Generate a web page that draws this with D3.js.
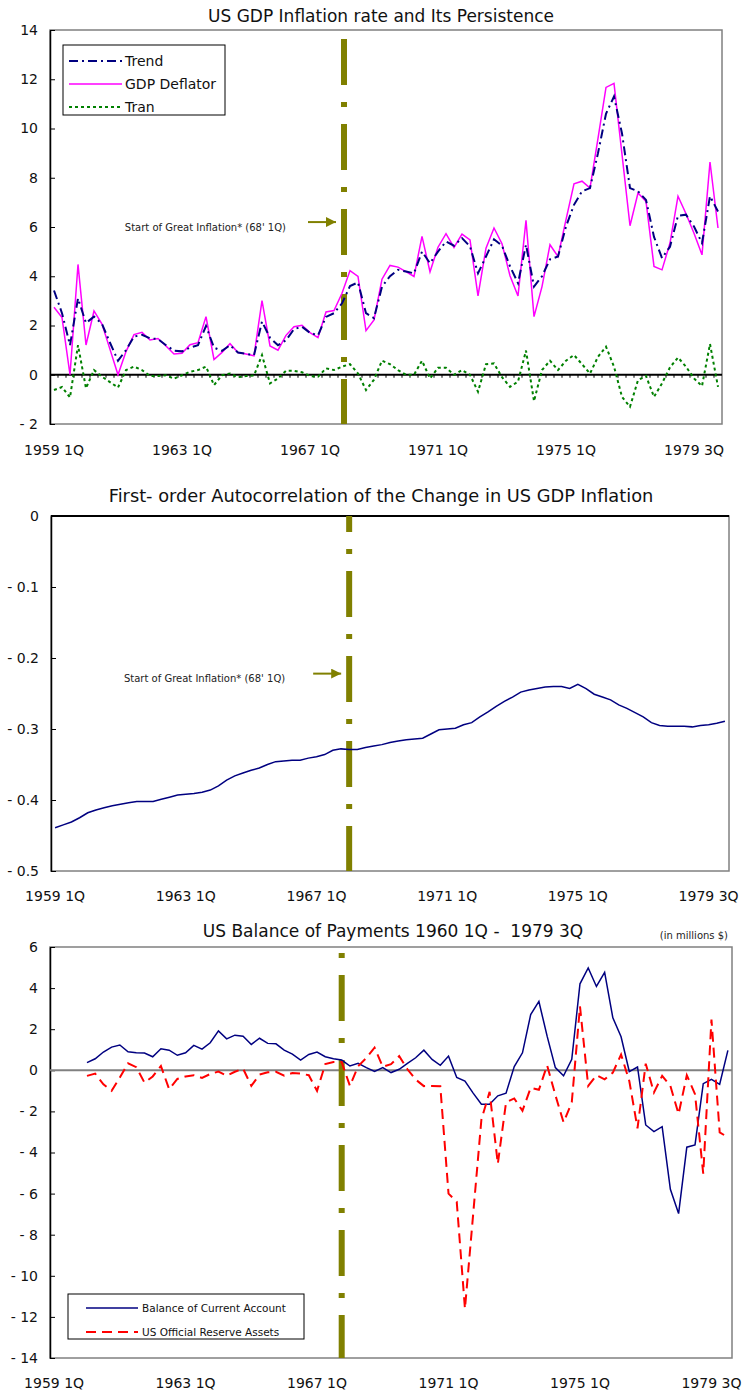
<!DOCTYPE html>
<html>
<head>
<meta charset="utf-8">
<script src="https://cdn.jsdelivr.net/npm/d3@7"></script>
<style>
  body { margin: 0; background: #fff; }
  svg { font-family: "DejaVu Sans", Verdana, sans-serif; }
  text { white-space: pre; }
</style>
</head>
<body>
<div id="chart"></div>
<script>
// x tick labels (shared by all three panels)
const xLabels = ["1959 1Q", "1963 1Q", "1967 1Q", "1971 1Q", "1975 1Q", "1979 3Q"];
const xLabelIndex = [0, 16, 32, 48, 64, 80];

// panel 1: quarterly inflation, 1959 1Q onward
const deflator = [
  2.74, 2.32, 0.0, 4.48, 1.21, 2.59, 2.06, 1.03, 0.0, 0.94,
  1.63, 1.72, 1.41, 1.47, 1.17, 0.84, 0.87, 1.22, 1.3, 2.36,
  0.62, 0.91, 1.26, 0.9, 0.84, 0.77, 3.01, 1.17, 1.0, 1.6,
  1.95, 2.01, 1.71, 1.51, 2.55, 2.61, 3.31, 4.23, 3.99, 1.79,
  2.23, 3.88, 4.44, 4.37, 4.19, 3.99, 5.62, 4.18, 5.18, 5.73,
  5.17, 5.71, 5.48, 3.2, 5.14, 5.96, 5.32, 4.02, 3.2, 6.27,
  2.36, 3.58, 5.28, 4.8, 6.3, 7.75, 7.86, 7.58, 9.6, 11.67,
  11.83, 8.95, 6.05, 7.38, 7.04, 4.4, 4.26, 5.35, 7.25, 6.54,
  5.75, 4.87, 8.64, 5.96
];
const trend = [
  3.42, 2.5, 1.2, 3.1, 2.1, 2.36, 2.06, 1.3, 0.57, 1.0,
  1.55, 1.62, 1.48, 1.45, 1.2, 0.98, 0.95, 1.1, 1.2, 1.98,
  1.1, 0.97, 1.2, 0.9, 0.85, 0.8, 2.16, 1.5, 1.2, 1.4,
  1.85, 1.95, 1.7, 1.6, 2.35, 2.5, 2.9, 3.6, 3.75, 2.5,
  2.3, 3.58, 4.0, 4.26, 4.19, 4.12, 5.0, 4.53, 5.0, 5.41,
  5.24, 5.55, 5.21, 4.12, 4.8, 5.5, 5.24, 4.4, 3.72, 5.28,
  3.58, 4.0, 4.69, 4.8, 6.02, 6.9, 7.45, 7.58, 9.0, 10.6,
  11.3, 9.8, 7.58, 7.45, 7.1, 5.6, 4.74, 5.2, 6.46, 6.5,
  6.02, 5.35, 7.25, 6.63
];
const tran = [
  -0.62, -0.5, -0.92, 1.2, -0.55, 0.19, -0.08, -0.3, -0.52, 0.19,
  0.33, 0.19, -0.05, -0.05, -0.02, -0.16, -0.02, 0.12, 0.19, 0.33,
  -0.42, -0.02, 0.05, -0.1, -0.05, -0.03, 0.8, -0.35, -0.15, 0.16,
  0.16, 0.1, -0.05, -0.08, 0.26, 0.19, 0.33, 0.43, 0.05, -0.62,
  -0.2, 0.57, 0.43, 0.19, 0.0, 0.0, 0.57, -0.15, 0.28, 0.28,
  0.0, 0.19, 0.0, -0.69, 0.43, 0.46, -0.1, -0.49, -0.28, 0.98,
  -1.07, 0.19, 0.57, 0.19, 0.57, 0.8, 0.43, 0.05, 0.73, 1.14,
  0.33, -0.9, -1.3, -0.22, -0.05, -0.9, -0.35, 0.3, 0.7, 0.33,
  -0.15, -0.46, 1.25, -0.49
];

// panel 2: first-order autocorrelation, 1959 1Q - 1979 3Q
const autocorr = [
  -0.439, -0.435, -0.431, -0.425, -0.418, -0.414, -0.411, -0.408, -0.406, -0.404,
  -0.402, -0.402, -0.402, -0.399, -0.396, -0.393, -0.392, -0.391, -0.389, -0.386,
  -0.38, -0.372, -0.366, -0.362, -0.358, -0.355, -0.35, -0.346, -0.345, -0.344,
  -0.344, -0.341, -0.339, -0.336, -0.33, -0.328, -0.329, -0.329, -0.326, -0.324,
  -0.322, -0.319, -0.317, -0.315, -0.314, -0.313, -0.307, -0.301, -0.3, -0.299,
  -0.294, -0.291, -0.283, -0.276, -0.268, -0.261, -0.255, -0.248, -0.245, -0.243,
  -0.241, -0.24, -0.24, -0.243, -0.237, -0.243, -0.251, -0.255, -0.259, -0.266,
  -0.271, -0.277, -0.283, -0.291, -0.295, -0.296, -0.296, -0.296, -0.297, -0.295,
  -0.294, -0.292, -0.289
];

// panel 3: balance of payments, 1960 1Q - 1979 3Q
const currentAccount = [
  0.37, 0.56, 0.89, 1.13, 1.23, 0.9, 0.85, 0.84, 0.66, 1.05,
  0.98, 0.73, 0.85, 1.21, 1.03, 1.34, 1.92, 1.53, 1.71, 1.66,
  1.26, 1.56, 1.31, 1.29, 0.98, 0.79, 0.5, 0.77, 0.89, 0.66,
  0.56, 0.5, 0.21, 0.34, 0.13, -0.05, 0.13, -0.11, 0.05, 0.34,
  0.61, 0.98, 0.53, 0.24, 0.69, -0.35, -0.52, -1.11, -1.65, -1.65,
  -1.24, -1.11, 0.18, 0.85, 2.71, 3.35, 1.66, 0.13, -0.27, 0.53,
  4.21, 4.98, 4.08, 4.77, 2.55, 1.63, -0.06, 0.16, -2.66, -2.98,
  -2.74, -5.79, -6.97, -3.74, -3.63, -0.65, -0.44, -0.68, 0.97
];
const reserveAssets = [
  -0.27, -0.16, -0.68, -1.0, -0.35, 0.34, 0.15, -0.6, -0.3, 0.21,
  -0.92, -0.42, -0.3, -0.24, -0.37, -0.18, -0.06, -0.26, -0.07, 0.08,
  -0.76, -0.21, -0.1, -0.07, -0.26, -0.13, -0.16, -0.24, -1.0, 0.3,
  0.4, 0.4, -0.76, 0.2, 0.6, 1.1, 0.17, 0.3, 0.69, 0.05,
  -0.45, -0.77, -0.76, -0.78, -6.0, -6.4, -11.6, -7.0, -2.4, -1.05,
  -4.55, -1.56, -1.37, -1.97, -0.85, -0.95, 0.24, -1.2, -2.53, -1.56,
  3.11, -0.76, -0.24, -0.44, -0.11, 0.77, -0.52, -2.82, 0.32, -1.08,
  -0.27, -0.76, -2.13, -0.24, -1.16, -5.03, 2.47, -3.02, -3.26
];

const greatInflationLabel = "Start of Great Inflation* (68' 1Q)";

const W = 745, H = 1393;
const olive = "#808000";

const svg = d3.select("#chart").append("svg")
  .attr("width", W).attr("height", H);

svg.append("defs").append("marker")
  .attr("id", "arrowhead")
  .attr("viewBox", "0 0 10 10")
  .attr("refX", 10).attr("refY", 5)
  .attr("markerWidth", 5).attr("markerHeight", 5)
  .attr("markerUnits", "strokeWidth")
  .attr("orient", "auto")
  .append("path").attr("d", "M0,0L10,5L0,10Z").attr("fill", olive);

const fmt = (d) => (d < 0 ? "- " + Math.abs(d) : String(d));

function makePanel(p) {
  const x = d3.scaleLinear().domain([0, p.nCat]).range([p.left, p.right]);
  const y = d3.scaleLinear().domain(p.yDomain).range([p.bottom, p.top]);
  const g = svg.append("g");

  // title
  g.append("text")
    .attr("x", p.titleX).attr("y", p.titleY)
    .attr("text-anchor", "middle").attr("dy", "0.35em")
    .style("font-size", p.titleSize + "px").attr("fill", "#111")
    .text(p.title);

  // frame
  g.append("rect")
    .attr("x", p.left).attr("y", p.top)
    .attr("width", p.right - p.left).attr("height", p.bottom - p.top)
    .attr("fill", "none").attr("stroke", "#808080").attr("stroke-width", 1.5);

  // y axis
  const yAxis = g.append("g")
    .attr("transform", `translate(${p.left},0)`)
    .call(d3.axisLeft(y).tickValues(p.yTicks).tickFormat(fmt)
      .tickSizeInner(-5).tickSizeOuter(0).tickPadding(12));
  yAxis.select(".domain").attr("stroke", "#000").attr("stroke-width", 1.5);
  yAxis.selectAll(".tick line").attr("stroke", "#000");
  yAxis.selectAll(".tick text")
    .style("font-size", "14px").attr("fill", "#111")
    .style("font-family", "DejaVu Sans, Verdana, sans-serif");

  // x category labels
  g.selectAll(".xlab")
    .data(xLabels)
    .enter().append("text")
    .attr("class", "xlab")
    .attr("x", (d, i) => x(xLabelIndex[i] + 0.5))
    .attr("y", p.labelY).attr("dy", "0.35em")
    .attr("text-anchor", "middle")
    .style("font-size", "14px").attr("fill", "#111")
    .text((d) => d);

  return { g, x, y };
}

function addMarker(panel, p, offset) {
  const { g, x } = panel;
  const mx = x(p.markerIndex);
  g.append("line")
    .attr("x1", mx).attr("x2", mx)
    .attr("y1", p.top).attr("y2", p.bottom)
    .attr("stroke", olive).attr("stroke-width", 6)
    .attr("stroke-dasharray", "46,17,5,17")
    .attr("stroke-dashoffset", offset);
}

function addArrowNote(panel, p) {
  const { g, x, y } = panel;
  const ax = x(p.markerIndex);
  g.append("line")
    .attr("x1", ax - 36).attr("x2", ax - 8)
    .attr("y1", y(p.noteValue)).attr("y2", y(p.noteValue))
    .attr("stroke", olive).attr("stroke-width", 2)
    .attr("marker-end", "url(#arrowhead)");
  g.append("text")
    .attr("x", ax - p.noteGap).attr("y", y(p.noteValue) + 5)
    .attr("dy", "0.35em").attr("text-anchor", "end")
    .style("font-size", "10px").attr("fill", "#222")
    .text(greatInflationLabel);
}

function lineOf(panel, values, start) {
  return d3.line()
    .x((d, i) => panel.x(start + i + 0.5))
    .y((d) => panel.y(d))(values);
}

// ---------- panel 1 ----------
const p1 = {
  title: "US GDP Inflation rate and Its Persistence", titleX: 381, titleY: 16, titleSize: 17,
  left: 50, right: 722, top: 30, bottom: 424, nCat: 84,
  yDomain: [-2, 14], yTicks: [-2, 0, 2, 4, 6, 8, 10, 12, 14],
  labelY: 450, markerIndex: 36.75, noteValue: 6.2, noteGap: 58
};
const panel1 = makePanel(p1);

// category axis crossing at zero
panel1.g.append("line")
  .attr("x1", p1.left).attr("x2", p1.right)
  .attr("y1", panel1.y(0)).attr("y2", panel1.y(0))
  .attr("stroke", "#000").attr("stroke-width", 2);
panel1.g.selectAll(".ztick")
  .data(d3.range(1, p1.nCat))
  .enter().append("line")
  .attr("x1", (d) => panel1.x(d)).attr("x2", (d) => panel1.x(d))
  .attr("y1", panel1.y(0)).attr("y2", panel1.y(0) + 3)
  .attr("stroke", "#000").attr("stroke-width", 1);

addMarker(panel1, p1, 76);
addArrowNote(panel1, p1);

panel1.g.append("path").attr("d", lineOf(panel1, tran, 0))
  .attr("fill", "none").attr("stroke", "#008000").attr("stroke-width", 2)
  .attr("stroke-dasharray", "3,3");
panel1.g.append("path").attr("d", lineOf(panel1, deflator, 0))
  .attr("fill", "none").attr("stroke", "#ff00ff").attr("stroke-width", 1.5);
panel1.g.append("path").attr("d", lineOf(panel1, trend, 0))
  .attr("fill", "none").attr("stroke", "#000080").attr("stroke-width", 2)
  .attr("stroke-dasharray", "9,4,2,4");

// legend 1
const leg1 = panel1.g.append("g");
leg1.append("rect").attr("x", 63).attr("y", 45).attr("width", 162).attr("height", 70)
  .attr("fill", "#fff").attr("stroke", "#000").attr("stroke-width", 1);
const leg1Items = [
  { name: "Trend", color: "#000080", dash: "9,4,2,4", w: 2 },
  { name: "GDP Deflator", color: "#ff00ff", dash: null, w: 1.5 },
  { name: "Tran", color: "#008000", dash: "3,3", w: 2 }
];
leg1Items.forEach((d, i) => {
  const yy = 61 + i * 23;
  leg1.append("line").attr("x1", 69).attr("x2", 122).attr("y1", yy).attr("y2", yy)
    .attr("stroke", d.color).attr("stroke-width", d.w)
    .attr("stroke-dasharray", d.dash);
  leg1.append("text").attr("x", 125).attr("y", yy).attr("dy", "0.35em")
    .style("font-size", "14px").attr("fill", "#111").text(d.name);
});

// ---------- panel 2 ----------
const p2 = {
  title: "First- order Autocorrelation of the Change in US GDP Inflation", titleX: 381, titleY: 496, titleSize: 17.8,
  left: 51, right: 729, top: 516, bottom: 871, nCat: 83,
  yDomain: [-0.5, 0], yTicks: [-0.5, -0.4, -0.3, -0.2, -0.1, 0],
  labelY: 896, markerIndex: 36.5, noteValue: -0.222, noteGap: 64
};
const panel2 = makePanel(p2);
panel2.g.append("line")
  .attr("x1", p2.left).attr("x2", p2.right)
  .attr("y1", panel2.y(0)).attr("y2", panel2.y(0))
  .attr("stroke", "#000").attr("stroke-width", 2);
addMarker(panel2, p2, 30);
addArrowNote(panel2, p2);
panel2.g.append("path").attr("d", lineOf(panel2, autocorr, 0))
  .attr("fill", "none").attr("stroke", "#000080").attr("stroke-width", 1.5);

// ---------- panel 3 ----------
const p3 = {
  title: "US Balance of Payments 1960 1Q -  1979 3Q", titleX: 393, titleY: 931, titleSize: 17,
  left: 50, right: 732, top: 947, bottom: 1358, nCat: 83,
  yDomain: [-14, 6], yTicks: d3.range(-14, 7, 2),
  labelY: 1383, markerIndex: 35.5
};
const panel3 = makePanel(p3);
panel3.g.append("text")
  .attr("x", 728).attr("y", 939).attr("text-anchor", "end")
  .style("font-size", "10px").attr("fill", "#222")
  .text("(in millions $)");
panel3.g.append("line")
  .attr("x1", p3.left).attr("x2", p3.right)
  .attr("y1", panel3.y(0)).attr("y2", panel3.y(0))
  .attr("stroke", "#808080").attr("stroke-width", 2);
addMarker(panel3, p3, 57);
panel3.g.append("path").attr("d", lineOf(panel3, currentAccount, 4))
  .attr("fill", "none").attr("stroke", "#000080").attr("stroke-width", 1.5);
panel3.g.append("path").attr("d", lineOf(panel3, reserveAssets, 4))
  .attr("fill", "none").attr("stroke", "#ff0000").attr("stroke-width", 2)
  .attr("stroke-dasharray", "10,6");

// legend 3
const leg3 = panel3.g.append("g");
leg3.append("rect").attr("x", 68).attr("y", 1294).attr("width", 236).attr("height", 45)
  .attr("fill", "#fff").attr("stroke", "#000").attr("stroke-width", 1);
const leg3Items = [
  { name: "Balance of Current Account", color: "#000080", dash: null, w: 1.5 },
  { name: "US Official Reserve Assets", color: "#ff0000", dash: "10,6", w: 2 }
];
leg3Items.forEach((d, i) => {
  const yy = 1308 + i * 24;
  leg3.append("line").attr("x1", 86).attr("x2", 138).attr("y1", yy).attr("y2", yy)
    .attr("stroke", d.color).attr("stroke-width", d.w)
    .attr("stroke-dasharray", d.dash);
  leg3.append("text").attr("x", 142).attr("y", yy).attr("dy", "0.35em")
    .style("font-size", "10.5px").attr("fill", "#111").text(d.name);
});
</script>
</body>
</html>
